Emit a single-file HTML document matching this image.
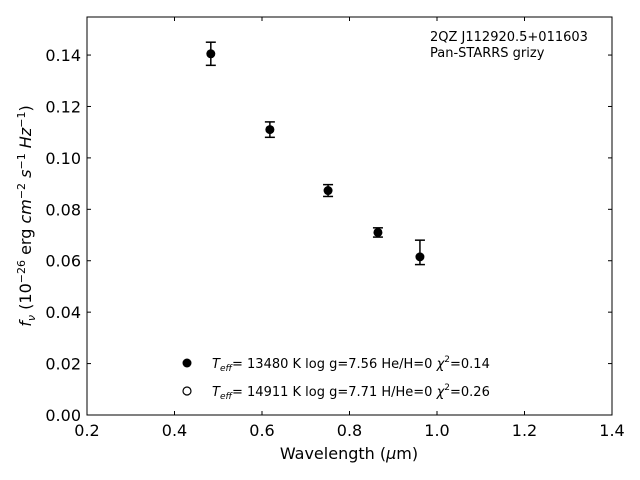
<!DOCTYPE html>
<html><head><meta charset="utf-8"><style>
body{margin:0;background:#fff;}
svg{display:block;font-family:"DejaVu Sans","Liberation Sans",sans-serif;}
</style></head><body>
<svg id="chart" width="640" height="480">
<rect x="0" y="0" width="640" height="480" fill="#fff"/>
<g id="ticks"></g>
<g id="marks"></g>
<rect x="87" y="17" width="525" height="398" fill="none" stroke="#000" stroke-width="1"/>
<text x="430" y="41" font-size="13">2QZ J112920.5+011603</text>
<text x="430" y="57" font-size="13">Pan-STARRS grizy</text>
<text x="349" y="459" font-size="16" text-anchor="middle">Wavelength (<tspan font-style="italic">μ</tspan>m)</text>
<text transform="translate(31,216) rotate(-90)" font-size="16" text-anchor="middle"><tspan font-style="italic">f<tspan font-size="11" dy="4">ν</tspan></tspan><tspan dy="-4"> (10</tspan><tspan font-size="11" dy="-6">−26</tspan><tspan dy="6"> erg </tspan><tspan font-style="italic">cm</tspan><tspan font-size="11" dy="-6">−2</tspan><tspan dy="6"> </tspan><tspan font-style="italic">s</tspan><tspan font-size="11" dy="-6">−1</tspan><tspan dy="6"> </tspan><tspan font-style="italic">Hz</tspan><tspan font-size="11" dy="-6">−1</tspan><tspan dy="6">)</tspan></text>
<g>
<circle cx="187" cy="363" r="4.5" fill="#000"/>
<text x="212" y="368" font-size="13"><tspan font-style="italic">T</tspan><tspan font-style="italic" font-size="9" dy="3">eff</tspan><tspan dy="-3">= 13480 K  log g=7.56  He/H=0  </tspan><tspan font-style="italic">χ</tspan><tspan font-size="9" dy="-6">2</tspan><tspan dy="6">=0.14</tspan></text>
<circle cx="187" cy="391" r="4" fill="#fff" stroke="#000" stroke-width="1.2"/>
<text x="212" y="396" font-size="13"><tspan font-style="italic">T</tspan><tspan font-style="italic" font-size="9" dy="3">eff</tspan><tspan dy="-3">= 14911 K  log g=7.71  H/He=0  </tspan><tspan font-style="italic">χ</tspan><tspan font-size="9" dy="-6">2</tspan><tspan dy="6">=0.26</tspan></text>
</g>
</svg>
<script>
const wavelengths=[0.483,0.618,0.751,0.865,0.961];
const fluxes=[0.1405,0.111,0.0873,0.071,0.0615];
const errUpper=[0.0045,0.003,0.0023,0.0018,0.0065];
const errLower=[0.0045,0.003,0.0023,0.0018,0.0030];
const xTicks=[0.2,0.4,0.6,0.8,1.0,1.2,1.4];
const yTicks=[0,0.02,0.04,0.06,0.08,0.10,0.12,0.14];
const X0=87,X1=612,Y0=415,Y1=17,xmin=0.2,xmax=1.4,ymin=0,ymax=0.1548;
const sx=v=>X0+(v-xmin)/(xmax-xmin)*(X1-X0);
const sy=v=>Y0-(v-ymin)/(ymax-ymin)*(Y0-Y1);
const NS='http://www.w3.org/2000/svg';
function mk(tag,attrs,parent){const e=document.createElementNS(NS,tag);for(const k in attrs)e.setAttribute(k,attrs[k]);parent.appendChild(e);return e;}
const tg=document.getElementById('ticks'),mg=document.getElementById('marks');
xTicks.forEach(t=>{const x=sx(t);
 let l=mk('line',{x1:x,x2:x,y1:Y0,y2:Y0-4,stroke:'#000'},tg);
 
 
 let l2=mk('line',{x1:x,x2:x,y1:Y1,y2:Y1+4,stroke:'#000'},tg);
 
 
 let tx=mk('text',{x:x,y:Y0+21,'font-size':16,'text-anchor':'middle'},tg);tx.textContent=t.toFixed(1);
 
 
});
yTicks.forEach(t=>{const y=sy(t);
 let l=mk('line',{x1:X0,x2:X0+4,y1:y,y2:y,stroke:'#000'},tg);
 
 
 let l2=mk('line',{x1:X1,x2:X1-4,y1:y,y2:y,stroke:'#000'},tg);
 
 
 let tx=mk('text',{x:X0-6,y:y+6,'font-size':16,'text-anchor':'end'},tg);tx.textContent=t.toFixed(2);
 
 
});
wavelengths.forEach((w,i)=>{const x=sx(w),y=sy(fluxes[i]),yt=sy(fluxes[i]+errUpper[i]),yb=sy(fluxes[i]-errLower[i]);
 let g=mk('g',{},mg);
 
 
 mk('line',{x1:x,x2:x,y1:yt,y2:yb,stroke:'#000','stroke-width':1.5},g);
 mk('line',{x1:x-5,x2:x+5,y1:yt,y2:yt,stroke:'#000','stroke-width':1.5},g);
 mk('line',{x1:x-5,x2:x+5,y1:yb,y2:yb,stroke:'#000','stroke-width':1.5},g);
 mk('circle',{cx:x,cy:y,r:4.5,fill:'#000'},g);
});
</script>
</body></html>
